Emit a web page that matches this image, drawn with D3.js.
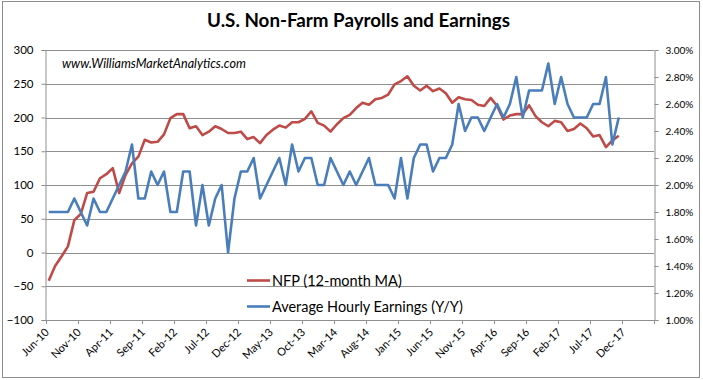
<!DOCTYPE html>
<html><head><meta charset="utf-8">
<script src="https://cdn.jsdelivr.net/npm/d3@7"></script>
<style>
body{margin:0;background:#fff}
svg{display:block}
text{font-family:Lato,"Liberation Sans",sans-serif;fill:#000}
</style>
</head><body>
<svg id="chart" width="703" height="380"></svg>
<script>
// ---- data (monthly, Jun-10 .. Nov-17) ----
const nfp = [-42,-20,-6,9,48,57,88,90,110,116,125,88,115,132,142,167,163,164,175,199,
  205,205,184,187,174,179,187,183,177,177,179,168,171,162,174,182,188,185,193,193,
  198,209,192,188,179,190,199,204,214,222,219,227,229,234,249,254,261,247,240,247,
  239,243,236,222,230,227,226,219,217,229,217,197,203,205,205,218,202,193,187,195,
  193,180,183,191,184,172,174,156,166,173];
const ahe = [1.8,1.8,1.8,1.8,1.9,1.8,1.7,1.9,1.8,1.8,1.9,2.0,2.1,2.3,1.9,1.9,2.1,2.0,2.1,1.8,
  1.8,2.1,2.1,1.7,2.0,1.7,1.9,2.0,1.5,1.9,2.1,2.1,2.2,1.9,2.0,2.1,2.2,2.0,2.3,2.1,
  2.2,2.2,2.0,2.0,2.2,2.1,2.0,2.1,2.0,2.1,2.2,2.0,2.0,2.0,1.9,2.2,1.9,2.2,2.3,2.3,
  2.1,2.2,2.2,2.3,2.6,2.4,2.5,2.5,2.4,2.5,2.6,2.5,2.6,2.8,2.5,2.7,2.7,2.7,2.9,2.6,
  2.8,2.6,2.5,2.5,2.5,2.6,2.6,2.8,2.3,2.5];
const tickLabels = ["Jun-10","Nov-10","Apr-11","Sep-11","Feb-12","Jul-12","Dec-12","May-13","Oct-13",
  "Mar-14","Aug-14","Jan-15","Jun-15","Nov-15","Apr-16","Sep-16","Feb-17","Jul-17","Dec-17"];
const tickStep = 5;
const slotCount = 95;
const leftTicks = [-100,-50,0,50,100,150,200,250,300];
const rightTicks = [1.0,1.2,1.4,1.6,1.8,2.0,2.2,2.4,2.6,2.8,3.0];
const seriesNames = ["NFP (12-month MA)","Average Hourly Earnings (Y/Y)"];
const colors = ["#BE4B48","#4A7EBB"];
const titleText = "U.S. Non-Farm Payrolls and Earnings";
const watermark = "www.WilliamsMarketAnalytics.com";

// ---- layout ----
const svg = d3.select("#chart");
const L = 45.5, R = 654, T = 50, B = 320;
const x = d3.scaleLinear().domain([-0.5, slotCount - 0.5]).range([L, R]);
const yL = d3.scaleLinear().domain([-100, 300]).range([B, T]);
const yR = d3.scaleLinear().domain([1, 3]).range([B, T]);
const gridCol = "#8E8E8E";

function fit(t, w){
  const l = t.node().getComputedTextLength();
  const fs = parseFloat(t.attr("font-size"));
  t.attr("font-size", fs * w / l);
}

// outer border
svg.append("rect").attr("x",2.5).attr("y",1.5).attr("width",697).attr("height",376)
  .attr("fill","none").attr("stroke","#8C8C8C").attr("stroke-width",1);

// gridlines
svg.append("g").selectAll("line").data(leftTicks).join("line")
  .attr("x1",L).attr("x2",R)
  .attr("y1",d=>Math.round(yL(d))+0.5).attr("y2",d=>Math.round(yL(d))+0.5)
  .attr("stroke",gridCol).attr("stroke-width",1);

// left axis
const gl = svg.append("g").attr("transform",`translate(${Math.round(L)-0.5},0)`)
  .call(d3.axisLeft(yL).tickValues(leftTicks).tickSize(4).tickPadding(8).tickFormat(d3.format("d")));
gl.select(".domain").attr("stroke",gridCol);
gl.selectAll(".tick line").attr("stroke",gridCol);
gl.selectAll(".tick text").attr("font-size",11.5).attr("font-family","Lato").attr("fill","#000");

// right axis
const gr = svg.append("g").attr("transform",`translate(${R+0.5},0)`)
  .call(d3.axisRight(yR).tickValues(rightTicks).tickSize(4).tickPadding(7).tickFormat(d=>d.toFixed(2)+"%"));
gr.select(".domain").attr("stroke",gridCol);
gr.selectAll(".tick line").attr("stroke",gridCol);
gr.selectAll(".tick text").attr("font-size",10).attr("font-family","Lato").attr("fill","#000");

// bottom axis ticks (boundaries)
const bTicks = d3.range(0, slotCount + 1, tickStep).map(k => k - 0.5);
svg.append("g").selectAll("line").data(bTicks).join("line")
  .attr("x1",d=>Math.round(x(d))+0.5).attr("x2",d=>Math.round(x(d))+0.5)
  .attr("y1",B).attr("y2",B+4).attr("stroke",gridCol);
svg.append("g").selectAll("text").data(tickLabels).join("text")
  .attr("transform",(d,i)=>`translate(${x(i*tickStep)+1},${B+13}) rotate(-45)`)
  .attr("text-anchor","end").attr("font-size",11).text(d=>d);

// lines
const lineL = d3.line().x((d,i)=>x(i)).y(d=>yL(d));
const lineR = d3.line().x((d,i)=>x(i)).y(d=>yR(d));
svg.append("path").datum(nfp).attr("d",lineL).attr("fill","none")
  .attr("stroke",colors[0]).attr("stroke-width",2.6).attr("stroke-linejoin","round");
svg.append("path").datum(ahe).attr("d",lineR).attr("fill","none")
  .attr("stroke",colors[1]).attr("stroke-width",2.6).attr("stroke-linejoin","round");

// title
const tt = svg.append("text").attr("x",358.5).attr("y",27).attr("text-anchor","middle")
  .attr("font-size",19).attr("font-weight","bold").text(titleText);
fit(tt, 303);

// watermark
const wm = svg.append("text").attr("x",62).attr("y",68).attr("font-size",12)
  .attr("font-style","italic").text(watermark);
fit(wm, 184);

// legend
const legY = [280.5, 306.5];
const legW = [130, 191];
seriesNames.forEach((n,i)=>{
  svg.append("line").attr("x1",247).attr("x2",270).attr("y1",legY[i]).attr("y2",legY[i])
    .attr("stroke",colors[i]).attr("stroke-width",2.6);
  const t = svg.append("text").attr("x",272).attr("y",legY[i]+5.5).attr("font-size",14).text(n);
  fit(t, legW[i]);
});
</script>
</body></html>
